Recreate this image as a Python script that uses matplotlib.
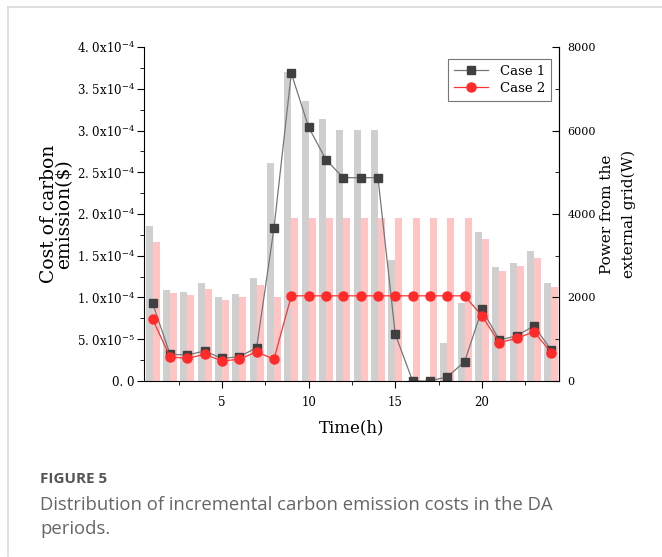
import matplotlib
matplotlib.use("Agg")
import matplotlib.pyplot as plt
from matplotlib.ticker import FixedLocator, FixedFormatter, MultipleLocator
import numpy as np

hours = np.arange(1, 25)

# carbon emission cost ($), left axis
cost_case1 = [9.3e-5, 3.2e-5, 3.1e-5, 3.6e-5, 2.7e-5, 2.9e-5, 4.0e-5, 1.83e-4,
              3.685e-4, 3.04e-4, 2.65e-4, 2.435e-4, 2.435e-4, 2.435e-4, 5.6e-5, 0.0,
              0.0, 5e-6, 2.3e-5, 8.6e-5, 4.9e-5, 5.4e-5, 6.6e-5, 3.7e-5]
cost_case2 = [7.4e-5, 2.9e-5, 2.7e-5, 3.2e-5, 2.4e-5, 2.6e-5, 3.5e-5, 2.6e-5,
              1.02e-4, 1.02e-4, 1.02e-4, 1.02e-4, 1.02e-4, 1.02e-4, 1.02e-4, 1.02e-4,
              1.02e-4, 1.02e-4, 1.02e-4, 7.8e-5, 4.6e-5, 5.1e-5, 5.9e-5, 3.4e-5]

# power bought from the external grid (W), right axis
grid_case1 = [3720, 2180, 2130, 2340, 2020, 2075, 2460, 5215,
              7390, 6715, 6265, 6010, 6010, 6010, 2900, 0,
              0, 920, 1860, 3580, 2720, 2835, 3120, 2340]
grid_case2 = [3340, 2115, 2060, 2195, 1940, 2010, 2300, 2020,
              3910, 3910, 3910, 3910, 3910, 3910, 3910, 3910,
              3910, 3910, 3910, 3400, 2645, 2755, 2955, 2260]

cost_ticks = [0, 5e-5, 1e-4, 1.5e-4, 2e-4, 2.5e-4, 3e-4, 3.5e-4, 4e-4]
cost_labels = ["0. 0", "5. 0x10$^{-5}$", "1. 0x10$^{-4}$", "1. 5x10$^{-4}$",
               "2. 0x10$^{-4}$", "2. 5x10$^{-4}$", "3. 0x10$^{-4}$",
               "3. 5x10$^{-4}$", "4. 0x10$^{-4}$"]

plt.rcParams["font.family"] = "DejaVu Serif"
plt.rcParams["mathtext.fontset"] = "dejavuserif"

fig = plt.figure(figsize=(6.62, 5.57), dpi=100)
ax = fig.add_axes([0.2175, 0.316, 0.627, 0.5996])
ax2 = ax.twinx()

# bars on the right axis, lines drawn above them
ax2.bar(hours - 0.4, grid_case1, width=0.4, align="edge", color="#cfcfcf", zorder=1)
ax2.bar(hours, grid_case2, width=0.4, align="edge", color="#ffc4c4", zorder=1)
ax2.set_ylim(0, 8000)
ax2.yaxis.set_major_locator(MultipleLocator(2000))
ax2.yaxis.set_minor_locator(MultipleLocator(1000))
ax2.tick_params(axis="y", which="both", direction="in", labelsize=8, pad=6)
ax2.tick_params(axis="y", which="major", length=5)
ax2.tick_params(axis="y", which="minor", length=3)
ax2.set_ylabel("Power from the\nexternal grid(W)", fontsize=11, linespacing=1.7)
ax2.yaxis.set_label_coords(1.098, 0.5)

ax.set_zorder(ax2.get_zorder() + 1)
ax.patch.set_visible(False)

ax.plot(hours, cost_case1, color="#777777", lw=0.9, marker="s", ms=6,
        mfc="#404040", mec="#404040", label="Case 1")
ax.plot(hours, cost_case2, color="#ff3333", lw=0.9, marker="o", ms=6.5,
        mfc="#ff2a2a", mec="#ff2a2a", label="Case 2")

ax.set_xlim(0.5, 24.45)
ax.set_ylim(0, 4e-4)
ax.yaxis.set_major_locator(FixedLocator(cost_ticks))
ax.yaxis.set_major_formatter(FixedFormatter(cost_labels))
ax.yaxis.set_minor_locator(MultipleLocator(2.5e-5))
ax.xaxis.set_major_locator(MultipleLocator(5))
ax.xaxis.set_minor_locator(MultipleLocator(2.5))
ax.tick_params(which="both", direction="out", labelsize=8.5)
ax.tick_params(which="major", length=5)
ax.tick_params(which="minor", length=3)
ax.tick_params(axis="y", pad=1.5)
ax.tick_params(axis="x", pad=6)

ax.set_xlabel("Time(h)", fontsize=12)
ax.xaxis.set_label_coords(0.5, -0.115)
ax.set_ylabel("Cost of carbon\nemission($)", fontsize=13.5, linespacing=0.85)
ax.yaxis.set_label_coords(-0.170, 0.5)

for a in (ax, ax2):
    a.spines["top"].set_visible(False)
ax2.spines["left"].set_visible(False)
ax2.spines["bottom"].set_visible(False)
ax2.spines["right"].set_color("#333333")

leg = ax.legend(loc="upper right", fontsize=9.5, frameon=True, fancybox=False,
                handlelength=2.6, borderpad=0.45, labelspacing=0.3,
                handletextpad=0.9, borderaxespad=0,
                bbox_to_anchor=(0.981, 0.964))
leg.get_frame().set_edgecolor("#555555")
leg.get_frame().set_linewidth(0.8)

# caption under the chart
fig.text(40 / 662, 1 - 479 / 557, "FIGURE 5", family="Open Sans", weight="bold",
         fontsize=11, color="#555555", va="center")
fig.text(40 / 662, 1 - 505 / 557,
         "Distribution of incremental carbon emission costs in the DA",
         family="Open Sans", fontsize=13.3, color="#666666", va="center")
fig.text(40 / 662, 1 - 529 / 557, "periods.", family="Open Sans", fontsize=13.3,
         color="#666666", va="center")

# page frame lines
fig.add_artist(plt.Line2D([8 / 662, 8 / 662], [0.002, 1 - 7 / 557],
                          color="#d9d9d9", lw=1.2))
fig.add_artist(plt.Line2D([8 / 662, 1], [1 - 7 / 557, 1 - 7 / 557],
                          color="#d9d9d9", lw=1.2))

fig.savefig("out.png", dpi=100)
